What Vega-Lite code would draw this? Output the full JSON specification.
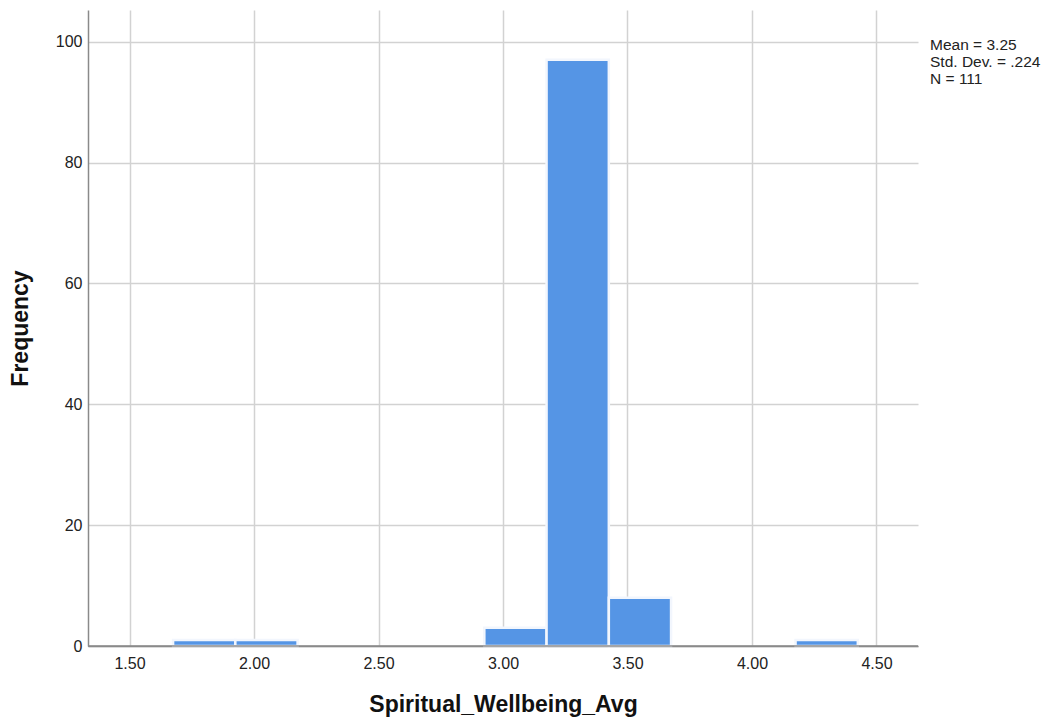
{
  "$schema": "https://vega.github.io/schema/vega-lite/v6.json",
  "width": 830,
  "height": 636,
  "autosize": {"type": "none"},
  "padding": {"left": 88, "top": 10, "right": 128, "bottom": 77},
  "background": "white",
  "config": {
    "view": {"stroke": null},
    "font": "Liberation Sans",
    "axis": {
      "domainColor": "#8a8a8a",
      "domainWidth": 1.5,
      "gridColor": "#d2d2d2",
      "gridWidth": 1.5,
      "ticks": false,
      "labelFont": "Liberation Sans",
      "labelFontSize": 16,
      "labelColor": "#222222",
      "titleFont": "Liberation Sans",
      "titleFontSize": 23,
      "titleFontWeight": "bold",
      "titleColor": "#111111"
    }
  },
  "layer": [
    {
      "data": {"values": [
        {"bin_start": 1.675, "bin_end": 1.925, "count": 1},
        {"bin_start": 1.925, "bin_end": 2.175, "count": 1},
        {"bin_start": 2.925, "bin_end": 3.175, "count": 3},
        {"bin_start": 3.175, "bin_end": 3.425, "count": 97},
        {"bin_start": 3.425, "bin_end": 3.675, "count": 8},
        {"bin_start": 4.175, "bin_end": 4.425, "count": 1}
      ]},
      "mark": {"type": "rect", "color": "#5595e5", "stroke": "#f2f6fd", "strokeWidth": 2.5},
      "encoding": {
        "x": {
          "field": "bin_start", "type": "quantitative",
          "scale": {"domain": [1.3333, 4.6667], "nice": false, "zero": false},
          "axis": {"values": [1.5, 2, 2.5, 3, 3.5, 4, 4.5], "format": ".2f", "labelPadding": 9, "titlePadding": 22},
          "title": "Spiritual_Wellbeing_Avg"
        },
        "x2": {"field": "bin_end"},
        "y": {
          "field": "count", "type": "quantitative",
          "scale": {"domain": [0, 105.25], "nice": false},
          "axis": {"values": [0, 20, 40, 60, 80, 100], "labelPadding": 6, "titlePadding": 23},
          "title": "Frequency"
        }
      }
    },
    {
      "data": {"values": [{"baseline": 0}]},
      "mark": {"type": "rule", "color": "#8a8a8a", "strokeWidth": 1.5},
      "encoding": {
        "y": {"field": "baseline", "type": "quantitative"}
      }
    },
    {
      "data": {"values": [{"stats": "Mean = 3.25\nStd. Dev. = .224\nN = 111"}]},
      "mark": {"type": "text", "align": "left", "baseline": "top", "lineBreak": "\n", "fontSize": 15.5, "lineHeight": 17, "color": "#222222", "font": "Liberation Sans"},
      "encoding": {
        "x": {"datum": 4.715, "type": "quantitative"},
        "y": {"datum": 100.6, "type": "quantitative"},
        "text": {"field": "stats"}
      }
    }
  ]
}
